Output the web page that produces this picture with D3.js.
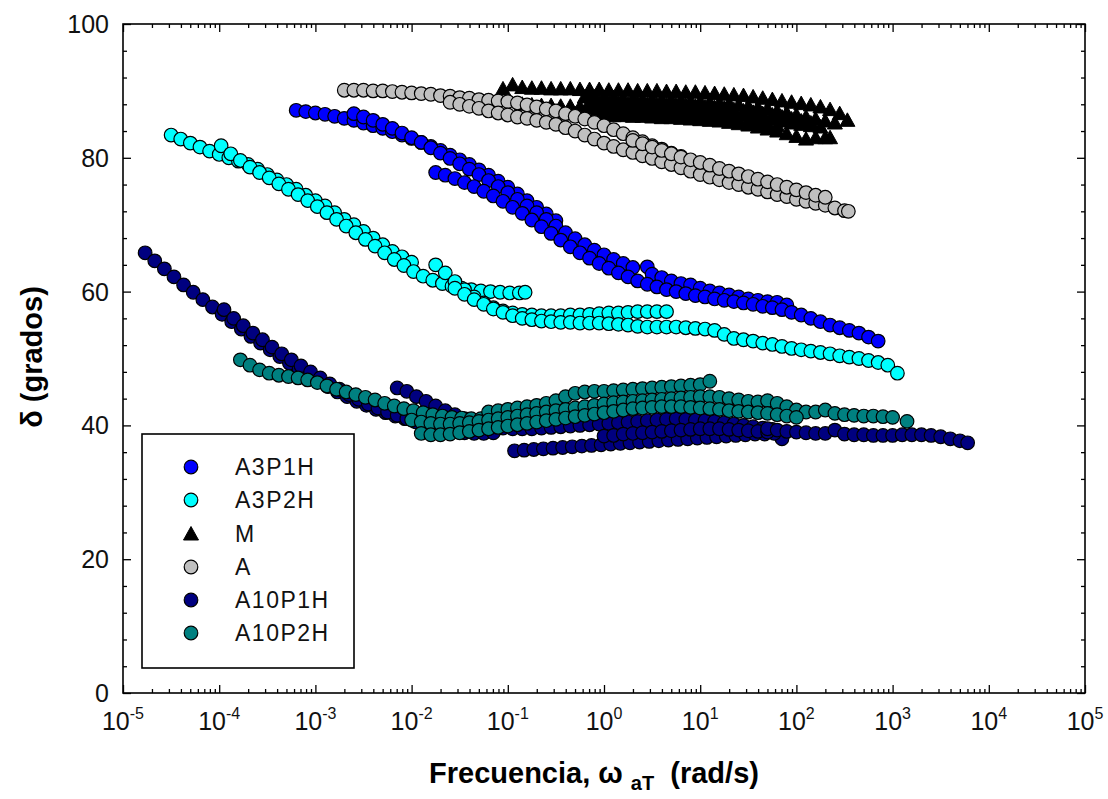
<!DOCTYPE html>
<html>
<head>
<meta charset="utf-8">
<script src="https://cdn.jsdelivr.net/npm/d3@7/dist/d3.min.js"></script>
<style>
html,body{margin:0;padding:0;background:#fff;}
svg{display:block;font-family:"Liberation Sans",Arial,sans-serif;}
</style>
</head>
<body>
<svg id="chart" width="1108" height="799"></svg>
<script>
// ---- DATA: each point is [log10(frequency rad/s), delta (degrees)] ----
const xDecades = [-5,-4,-3,-2,-1,0,1,2,3,4,5];
const yTicks = [0,20,40,60,80,100];
const seriesNames = ["A3P1H","A3P2H","M","A","A10P1H","A10P2H"];

const A3P1H_run1 = [[-3.2,87.1],[-3.1,86.9],[-3.0,86.7],[-2.9,86.5],[-2.8,86.2],[-2.7,85.9],[-2.6,85.6],[-2.5,85.2],[-2.4,84.8],[-2.3,84.4],[-2.2,83.9],[-2.1,83.4],[-2.0,82.9],[-1.9,82.3],[-1.8,81.7],[-1.7,81.1],[-1.6,80.4],[-1.5,79.7],[-1.4,79.0],[-1.3,78.2],[-1.2,77.4],[-1.1,76.5],[-1.0,75.6],[-0.9,74.6],[-0.8,73.6],[-0.7,72.6],[-0.6,71.6],[-0.5,70.6]];
const A3P1H_run2 = [[-2.6,86.6],[-2.5,86.1],[-2.4,85.6],[-2.3,85.0],[-2.2,84.4],[-2.1,83.7],[-2.0,83.0],[-1.9,82.3],[-1.8,81.5],[-1.7,80.7],[-1.6,79.9],[-1.5,79.1],[-1.4,78.3],[-1.3,77.5],[-1.2,76.6],[-1.1,75.7],[-1.0,74.8],[-0.9,73.8],[-0.8,72.8],[-0.7,71.8],[-0.6,70.8],[-0.5,69.8],[-0.4,68.8],[-0.3,67.9],[-0.2,67.0],[-0.1,66.2],[0.0,65.5],[0.1,64.8],[0.2,64.2],[0.3,63.6],[0.45,63.7],[0.5,62.6],[0.6,62.1],[0.7,61.6],[0.8,61.2],[0.9,61.0],[1.0,60.5],[1.1,60.1],[1.2,59.8],[1.3,59.5],[1.4,59.2],[1.5,58.9],[1.6,58.7],[1.7,58.5],[1.8,58.4],[1.9,58.0]];
const A3P1H_run3 = [[-1.75,77.8],[-1.65,77.4],[-1.55,76.9],[-1.45,76.3],[-1.35,75.7],[-1.25,75.0],[-1.15,74.3],[-1.05,73.5],[-0.95,72.6],[-0.85,71.7],[-0.75,70.7],[-0.65,69.7],[-0.55,68.7],[-0.45,67.7],[-0.35,66.7],[-0.25,65.8],[-0.15,65.0],[-0.05,64.2],[0.05,63.5],[0.15,62.8],[0.25,62.2],[0.35,61.6],[0.45,61.1],[0.55,60.7],[0.65,60.3],[0.75,60.0],[0.85,59.7],[0.95,59.4],[1.05,59.2],[1.15,58.9],[1.25,58.7],[1.35,58.5],[1.45,58.3],[1.55,58.1],[1.65,57.8],[1.75,57.6],[1.85,57.3],[1.95,56.9],[2.05,56.5],[2.15,56.0],[2.25,55.5],[2.35,55.0],[2.45,54.6],[2.55,54.2],[2.65,53.8],[2.75,53.2],[2.85,52.6]];

const A3P2H_run1 = [[-4.5,83.4],[-4.4,82.8],[-4.3,82.2],[-4.2,81.6],[-4.1,81.0],[-4.0,80.5],[-3.9,80.0],[-3.8,79.5],[-3.7,79.0],[-3.6,78.3],[-3.5,77.5],[-3.4,76.7],[-3.3,76.0],[-3.2,75.3],[-3.1,74.4],[-3.0,73.6],[-2.9,72.8],[-2.8,71.8],[-2.7,70.8],[-2.6,70.0],[-2.5,69.0],[-2.4,68.0],[-2.3,67.0],[-2.2,66.0],[-2.1,65.2],[-2.0,64.4]];
const A3P2H_run2 = [[-3.98,81.8],[-3.88,80.6],[-3.78,79.6],[-3.68,78.6],[-3.58,77.8],[-3.48,77.0],[-3.38,76.1],[-3.28,75.3],[-3.18,74.5],[-3.08,73.6],[-2.98,72.7],[-2.88,71.8],[-2.78,70.8],[-2.68,69.8],[-2.58,68.8],[-2.48,67.8],[-2.38,66.8],[-2.28,65.8],[-2.18,64.8],[-2.08,63.9],[-1.98,63.0],[-1.88,62.3],[-1.78,61.7],[-1.68,61.2],[-1.58,60.8],[-1.48,60.5],[-1.38,60.3],[-1.28,60.1],[-1.18,60.0],[-1.08,59.9],[-0.98,59.8],[-0.88,59.8],[-0.82,59.9]];
const A3P2H_run3 = [[-1.75,64.0],[-1.65,62.8],[-1.55,61.5],[-1.45,60.3],[-1.35,59.2],[-1.25,58.3],[-1.15,57.6],[-1.05,57.1],[-0.95,56.8],[-0.85,56.6],[-0.75,56.5],[-0.65,56.4],[-0.55,56.4],[-0.45,56.4],[-0.35,56.5],[-0.25,56.5],[-0.15,56.6],[-0.05,56.7],[0.05,56.8],[0.15,56.8],[0.25,56.9],[0.35,57.0],[0.45,57.0],[0.55,57.0],[0.65,57.0]];
const A3P2H_run4 = [[-1.55,60.5],[-1.45,59.6],[-1.35,58.8],[-1.25,58.1],[-1.15,57.4],[-1.05,56.9],[-0.95,56.4],[-0.85,56.0],[-0.75,55.8],[-0.65,55.6],[-0.55,55.5],[-0.45,55.4],[-0.35,55.4],[-0.25,55.3],[-0.15,55.3],[-0.05,55.3],[0.05,55.2],[0.15,55.1],[0.25,55.0],[0.35,54.8],[0.45,54.7],[0.55,54.7],[0.65,54.7],[0.75,54.7],[0.85,54.6],[0.95,54.5],[1.05,54.4],[1.15,54.2],[1.25,53.6],[1.35,53.0],[1.45,52.8],[1.55,52.6],[1.65,52.3],[1.75,52.1],[1.85,51.8],[1.95,51.5],[2.05,51.3],[2.15,51.1],[2.25,50.9],[2.35,50.7],[2.45,50.4],[2.55,50.2],[2.65,50.0],[2.75,49.7],[2.85,49.4],[2.95,49.0],[3.05,47.8]];

const M_run1 = [[-1.05,90.3],[-0.95,90.9],[-0.85,90.5],[-0.75,90.4],[-0.65,90.4],[-0.55,90.3],[-0.45,90.3],[-0.35,90.3],[-0.25,90.2],[-0.15,90.2],[-0.05,90.2],[0.05,90.1],[0.15,90.1],[0.25,90.1],[0.35,90.0],[0.45,90.0],[0.55,90.0],[0.65,89.9],[0.75,89.9],[0.85,89.8],[0.95,89.8],[1.05,89.7],[1.15,89.6],[1.25,89.5],[1.35,89.4],[1.45,89.3],[1.55,89.1],[1.65,88.9],[1.75,88.7],[1.85,88.5],[1.95,88.3],[2.05,88.1],[2.15,87.9],[2.25,87.6],[2.35,87.2],[2.45,86.6],[2.53,85.6]];
const M_run2 = [[-0.85,88.0],[-0.75,87.9],[-0.65,87.8],[-0.55,87.8],[-0.45,87.7],[-0.35,87.7],[-0.25,87.6],[-0.15,87.6],[-0.05,87.5],[0.05,87.5],[0.15,87.4],[0.25,87.4],[0.35,87.3],[0.45,87.3],[0.55,87.2],[0.65,87.2],[0.75,87.1],[0.85,87.0],[0.95,86.9],[1.05,86.8],[1.15,86.7],[1.25,86.6],[1.35,86.5],[1.45,86.4],[1.55,86.2],[1.65,86.0],[1.75,85.8],[1.85,85.5],[1.95,85.2],[2.05,85.0],[2.15,84.8],[2.25,84.6]];
const M_run3 = [[-0.3,86.6],[-0.2,86.5],[-0.1,86.5],[0.0,86.4],[0.1,86.3],[0.2,86.3],[0.3,86.2],[0.4,86.2],[0.5,86.1],[0.6,86.0],[0.7,86.0],[0.8,85.9],[0.9,85.8],[1.0,85.7],[1.1,85.6],[1.2,85.5],[1.3,85.3],[1.4,85.1],[1.5,84.9],[1.6,84.6],[1.7,84.3],[1.8,84.0],[1.9,83.6],[2.0,83.2],[2.1,82.8],[2.2,83.0],[2.3,83.0],[2.35,83.0]];
const M_run4 = [[-0.2,89.1],[-0.1,89.1],[0.0,89.0],[0.1,89.0],[0.2,88.9],[0.3,88.9],[0.4,88.8],[0.5,88.8],[0.6,88.7],[0.7,88.7],[0.8,88.6],[0.9,88.5],[1.0,88.4],[1.1,88.3],[1.2,88.2],[1.3,88.1],[1.4,87.9],[1.5,87.7],[1.6,87.5],[1.7,87.3],[1.8,87.0],[1.9,86.7],[2.0,86.4],[2.1,86.1],[2.2,85.8],[2.3,85.5],[2.4,85.2]];
const M_run5 = [[-0.15,88.3],[-0.05,88.3],[0.05,88.2],[0.15,88.2],[0.25,88.1],[0.35,88.1],[0.45,88.0],[0.55,88.0],[0.65,87.9],[0.75,87.9],[0.85,87.8],[0.95,87.7],[1.05,87.6],[1.15,87.5],[1.25,87.4],[1.35,87.2],[1.45,87.0],[1.55,86.8],[1.65,86.6],[1.75,86.4],[1.85,86.1],[1.95,85.8],[2.05,85.5],[2.15,85.2]];
const M_run6 = [[-0.1,87.0],[0.0,86.9],[0.1,86.9],[0.2,86.8],[0.3,86.8],[0.4,86.7],[0.5,86.7],[0.6,86.6],[0.7,86.5],[0.8,86.5],[0.9,86.4],[1.0,86.3],[1.1,86.2],[1.2,86.1],[1.3,85.9],[1.4,85.7],[1.5,85.5],[1.6,85.3],[1.7,85.1],[1.8,84.8]];

const A_run1 = [[-2.7,90.1],[-2.6,90.1],[-2.5,90.1],[-2.4,90.0],[-2.3,90.0],[-2.2,89.9],[-2.1,89.8],[-2.0,89.7],[-1.9,89.6],[-1.8,89.5],[-1.7,89.3],[-1.6,89.2],[-1.5,89.0],[-1.4,88.9],[-1.3,88.7],[-1.2,88.6],[-1.1,88.5],[-1.0,88.4],[-0.9,88.2],[-0.8,87.9],[-0.7,87.6],[-0.6,87.3],[-0.5,87.0],[-0.4,86.6],[-0.3,86.2],[-0.2,85.8],[-0.1,85.3],[0.0,84.8],[0.1,84.2],[0.2,83.6],[0.3,83.0],[0.4,82.4],[0.5,81.8],[0.6,81.3],[0.7,80.7],[0.8,80.2]];
const A_run2 = [[-1.6,88.3],[-1.5,88.0],[-1.4,87.7],[-1.3,87.4],[-1.2,87.0],[-1.1,86.7],[-1.0,86.4],[-0.9,86.1],[-0.8,85.9],[-0.7,85.6],[-0.6,85.3],[-0.5,85.0],[-0.4,84.5],[-0.3,84.0],[-0.2,83.4],[-0.1,82.8],[0.0,82.2],[0.1,81.7],[0.2,81.2],[0.3,80.8],[0.4,80.3],[0.5,79.9],[0.6,79.4],[0.7,79.0],[0.8,78.5],[0.9,78.0],[1.0,77.5],[1.1,77.1],[1.2,76.7],[1.3,76.3],[1.4,76.0],[1.5,75.6],[1.6,75.3],[1.7,74.9],[1.8,74.5],[1.9,74.2],[2.0,73.8],[2.1,73.5],[2.2,73.2],[2.3,72.9],[2.4,72.5],[2.5,72.1],[2.54,72.0]];
const A_run3 = [[0.3,82.6],[0.4,82.1],[0.5,81.6],[0.6,81.1],[0.7,80.6],[0.8,80.1],[0.9,79.7],[1.0,79.3],[1.1,78.9],[1.2,78.4],[1.3,78.0],[1.4,77.6],[1.5,77.2],[1.6,76.8],[1.7,76.4],[1.8,76.0],[1.9,75.6],[2.0,75.2],[2.1,74.8],[2.2,74.4],[2.3,74.1]];

const A10P1H_run1 = [[-4.77,65.8],[-4.67,64.6],[-4.57,63.4],[-4.47,62.2],[-4.37,61.0],[-4.27,59.9],[-4.17,58.8],[-4.07,57.7],[-3.97,56.6],[-3.87,55.5],[-3.77,54.4],[-3.67,53.3],[-3.57,52.3],[-3.47,51.3],[-3.37,50.3],[-3.27,49.3],[-3.17,48.4],[-3.07,47.5],[-2.97,46.6],[-2.87,45.8],[-2.77,45.0],[-2.67,44.3],[-2.57,43.6],[-2.47,43.0],[-2.37,42.4],[-2.27,41.9],[-2.17,41.4],[-2.07,41.0],[-1.97,40.6],[-1.87,40.2],[-1.77,39.9],[-1.67,39.6],[-1.57,39.4],[-1.47,39.2],[-1.37,39.1]];
const A10P1H_run2 = [[-3.95,57.3],[-3.85,56.0],[-3.75,54.9],[-3.65,53.8],[-3.55,52.8],[-3.45,51.7],[-3.35,50.7],[-3.25,49.8],[-3.15,48.9],[-3.05,48.0],[-2.95,47.1],[-2.85,46.2],[-2.75,45.4],[-2.65,44.6],[-2.55,43.9],[-2.45,43.2],[-2.35,42.6],[-2.25,42.0],[-2.15,41.5],[-2.05,41.0],[-1.95,40.5],[-1.85,40.1],[-1.75,39.7],[-1.65,39.4],[-1.55,39.1],[-1.45,38.9],[-1.35,38.8],[-1.25,38.8],[-1.15,38.9]];
const A10P1H_run3 = [[-2.15,45.6],[-2.05,45.1],[-1.95,44.3],[-1.85,43.6],[-1.75,42.9],[-1.65,42.2],[-1.55,41.6],[-1.45,41.0],[-1.35,40.5],[-1.25,40.1],[-1.15,39.8],[-1.05,39.6],[-0.95,39.5],[-0.85,39.5],[-0.75,39.5],[-0.65,39.6],[-0.55,39.7],[-0.45,39.8],[-0.35,39.9],[-0.25,40.0],[-0.15,40.1],[-0.05,40.2],[0.05,40.3],[0.15,40.4],[0.25,40.5],[0.35,40.6],[0.45,40.7],[0.55,40.8],[0.65,40.9],[0.75,41.0],[0.85,40.9],[0.95,40.8],[1.05,40.7],[1.15,40.6],[1.25,40.4],[1.35,40.2],[1.45,40.0],[1.55,39.8],[1.65,39.6],[1.75,39.4],[1.85,38.0]];
const A10P1H_run4 = [[-0.93,36.2],[-0.83,36.3],[-0.73,36.4],[-0.63,36.5],[-0.53,36.6],[-0.43,36.7],[-0.33,36.8],[-0.23,36.9],[-0.13,37.0],[-0.03,37.1],[0.07,37.2],[0.17,37.3],[0.27,37.4],[0.37,37.5],[0.47,37.6],[0.57,37.7],[0.67,37.8],[0.77,37.9],[0.87,38.0],[0.97,38.1],[1.07,38.2],[1.17,38.3],[1.27,38.4],[1.37,38.5],[1.47,38.6],[1.57,38.7],[1.67,38.7],[1.77,38.8]];
const A10P1H_run5 = [[0.0,38.4],[0.1,38.5],[0.2,38.7],[0.3,38.8],[0.4,38.9],[0.5,39.0],[0.6,39.1],[0.7,39.2],[0.8,39.3],[0.9,39.4],[1.0,39.5],[1.1,39.5],[1.2,39.5],[1.3,39.4],[1.4,39.3],[1.5,39.2],[1.6,39.1],[1.7,39.0]];
const A10P1H_run6 = [[1.7,39.5],[1.8,39.3],[1.9,39.1],[2.0,39.0],[2.1,38.9],[2.2,38.8],[2.3,38.8],[2.4,39.3],[2.5,38.7],[2.6,38.6],[2.7,38.6],[2.8,38.5],[2.9,38.5],[3.0,38.5],[3.1,38.6],[3.2,38.6],[3.3,38.6],[3.4,38.5],[3.5,38.3],[3.6,38.0],[3.7,37.7],[3.78,37.4]];

const A10P2H_run1 = [[-3.78,49.8],[-3.68,49.0],[-3.58,48.3],[-3.48,47.8],[-3.38,47.5],[-3.28,47.3],[-3.18,47.1],[-3.08,46.8],[-2.98,46.4],[-2.88,45.9],[-2.78,45.4],[-2.68,45.0],[-2.58,44.6],[-2.48,44.2],[-2.38,43.8],[-2.28,43.3],[-2.18,42.9],[-2.08,42.5],[-1.98,42.2],[-1.88,41.9],[-1.78,41.6],[-1.68,41.4],[-1.58,41.2],[-1.48,41.1],[-1.38,41.0],[-1.28,41.0],[-1.18,41.1],[-1.08,41.2],[-0.98,41.4],[-0.88,41.6]];
const A10P2H_run2 = [[-1.2,42.0],[-1.1,42.2],[-1.0,42.4],[-0.9,42.6],[-0.8,42.8],[-0.7,43.0],[-0.6,43.3],[-0.5,43.7],[-0.4,44.3],[-0.3,44.8],[-0.2,45.0],[-0.1,45.1],[0.0,45.1],[0.1,45.2],[0.2,45.3],[0.3,45.4],[0.4,45.5],[0.5,45.6],[0.6,45.7],[0.7,45.8],[0.8,45.9],[0.9,46.0],[1.0,46.1],[1.1,46.6]];
const A10P2H_run3 = [[-2.0,40.8],[-1.9,40.5],[-1.8,40.3],[-1.7,40.2],[-1.6,40.2],[-1.5,40.3],[-1.4,40.4],[-1.3,40.6],[-1.2,40.8],[-1.1,41.0],[-1.0,41.2],[-0.9,41.4],[-0.8,41.6],[-0.7,41.8],[-0.6,42.0],[-0.5,42.2],[-0.4,42.4],[-0.3,42.6],[-0.2,42.8],[-0.1,43.0],[0.0,43.2],[0.1,43.4],[0.2,43.5],[0.3,43.6],[0.4,43.7],[0.5,43.8],[0.6,43.9],[0.7,44.0],[0.8,44.1],[0.9,44.2],[1.0,44.3],[1.1,44.3],[1.2,44.2],[1.3,44.0],[1.4,43.8],[1.5,43.6],[1.6,43.5],[1.7,43.7],[1.8,43.3],[1.9,42.8],[2.0,42.3],[2.1,42.0],[2.2,42.0],[2.3,42.3],[2.4,41.8],[2.5,41.6],[2.6,41.5],[2.7,41.4],[2.8,41.4],[2.9,41.3],[3.0,41.2],[3.15,40.6]];
const A10P2H_run4 = [[-1.9,38.8],[-1.8,38.6],[-1.7,38.6],[-1.6,38.7],[-1.5,38.9],[-1.4,39.1],[-1.3,39.3],[-1.2,39.5],[-1.1,39.7],[-1.0,39.9],[-0.9,40.1],[-0.8,40.3],[-0.7,40.5],[-0.6,40.7],[-0.5,40.9],[-0.4,41.1],[-0.3,41.3],[-0.2,41.5],[-0.1,41.7],[0.0,41.9],[0.1,42.1],[0.2,42.3],[0.3,42.5],[0.4,42.6],[0.5,42.7],[0.6,42.8],[0.7,42.8],[0.8,42.8],[0.9,42.7],[1.0,42.6],[1.1,42.5],[1.2,42.4],[1.3,42.2],[1.4,42.1],[1.5,42.0],[1.6,41.9],[1.7,41.8],[1.8,41.6],[1.9,41.4],[2.0,41.2]];

const seriesColors = ["#0000FF","#00FFFF","#000000","#C0C0C0","#000080","#008080"];
const seriesShapes = ["circle","circle","triangle","circle","circle","circle"];
const seriesRuns = [
  [A3P1H_run1, A3P1H_run2, A3P1H_run3],
  [A3P2H_run1, A3P2H_run2, A3P2H_run3, A3P2H_run4],
  [M_run1, M_run4, M_run5, M_run2, M_run6, M_run3],
  [A_run1, A_run2, A_run3],
  [A10P1H_run1, A10P1H_run2, A10P1H_run3, A10P1H_run4, A10P1H_run5, A10P1H_run6],
  [A10P2H_run1, A10P2H_run2, A10P2H_run3, A10P2H_run4]
];

// ---- DRAWING ----
const svg = d3.select("#chart");
const L = 123, R = 1085, T = 24, B = 693;
const x = d3.scaleLog().domain([1e-5, 1e5]).range([L, R]);
const y = d3.scaleLinear().domain([0, 100]).range([B, T]);

const minorX = [];
xDecades.slice(0, -1).forEach(k => { for (let m = 2; m <= 9; m++) minorX.push(m * Math.pow(10, k)); });
const majorX = xDecades.map(k => Math.pow(10, k));
const minorY = d3.range(0, 101, 4).filter(v => v % 20 !== 0);

function styleAxis(g) {
  g.select(".domain").remove();
  g.selectAll(".tick line").attr("stroke", "#000").attr("stroke-width", 1.3);
  g.selectAll(".tick text").remove();
}
svg.append("g").attr("transform", `translate(0,${B})`).call(d3.axisBottom(x).tickValues(majorX).tickSize(-8)).call(styleAxis);
svg.append("g").attr("transform", `translate(0,${B})`).call(d3.axisBottom(x).tickValues(minorX).tickSize(-4)).call(styleAxis);
svg.append("g").attr("transform", `translate(0,${T})`).call(d3.axisTop(x).tickValues(majorX).tickSize(-8)).call(styleAxis);
svg.append("g").attr("transform", `translate(0,${T})`).call(d3.axisTop(x).tickValues(minorX).tickSize(-4)).call(styleAxis);
svg.append("g").attr("transform", `translate(${L},0)`).call(d3.axisLeft(y).tickValues(yTicks).tickSize(-8)).call(styleAxis);
svg.append("g").attr("transform", `translate(${L},0)`).call(d3.axisLeft(y).tickValues(minorY).tickSize(-4)).call(styleAxis);
svg.append("g").attr("transform", `translate(${R},0)`).call(d3.axisRight(y).tickValues(yTicks).tickSize(-8)).call(styleAxis);
svg.append("g").attr("transform", `translate(${R},0)`).call(d3.axisRight(y).tickValues(minorY).tickSize(-4)).call(styleAxis);

svg.append("rect").attr("x", L).attr("y", T).attr("width", R - L).attr("height", B - T)
  .attr("fill", "none").attr("stroke", "#000").attr("stroke-width", 1.6);

// y tick labels
svg.append("g").selectAll("text").data(yTicks).join("text")
  .attr("x", L - 14).attr("y", d => y(d)).attr("dy", "0.36em")
  .attr("text-anchor", "end").attr("font-size", 25).attr("fill", "#111")
  .text(d => d);

// x tick labels 10^k
const xl = svg.append("g").selectAll("text").data(xDecades).join("text")
  .attr("x", d => x(Math.pow(10, d))).attr("y", 730)
  .attr("text-anchor", "middle").attr("font-size", 25).attr("fill", "#111");
xl.append("tspan").text("10");
xl.append("tspan").attr("dy", -11).attr("font-size", 16).text(d => d);

// axis titles
const xt = svg.append("text").attr("x", 594).attr("y", 783).attr("text-anchor", "middle")
  .attr("font-size", 29).attr("font-weight", "bold").attr("fill", "#000");
xt.append("tspan").text("Frecuencia, ω\u00a0");
xt.append("tspan").attr("font-size", 20).attr("dy", 7).text("aT");
xt.append("tspan").attr("dy", -7).text("\u00a0\u00a0(rad/s)");

svg.append("text").attr("transform", "translate(42,357) rotate(-90)").attr("text-anchor", "middle")
  .attr("font-size", 29).attr("font-weight", "bold").attr("fill", "#000").text("δ (grados)");

// markers
const triPath = "M0,-7.5L7.5,6L-7.5,6Z";
function drawMarker(sel, shape, color) {
  if (shape === "triangle") {
    sel.append("path").attr("d", triPath).attr("fill", color).attr("stroke", "#000").attr("stroke-width", 1);
  } else {
    sel.append("circle").attr("r", 6.8).attr("fill", color).attr("stroke", "#000").attr("stroke-width", 1.2);
  }
}
const plot = svg.append("g");
seriesRuns.forEach((runs, si) => {
  const g = plot.append("g").attr("class", "series-" + seriesNames[si]);
  runs.forEach(run => {
    run.forEach(p => {
      const m = g.append("g").attr("transform", `translate(${x(Math.pow(10, p[0]))},${y(p[1])})`);
      drawMarker(m, seriesShapes[si], seriesColors[si]);
    });
  });
});

// legend
const lg = svg.append("g");
lg.append("rect").attr("x", 142).attr("y", 434).attr("width", 212).attr("height", 234)
  .attr("fill", "#fff").attr("stroke", "#000").attr("stroke-width", 1.6);
const rowsY = [467, 500, 534, 567, 600, 633];
seriesNames.forEach((n, i) => {
  const m = lg.append("g").attr("transform", `translate(191,${rowsY[i]})`);
  drawMarker(m, seriesShapes[i], seriesColors[i]);
  lg.append("text").attr("x", 235).attr("y", rowsY[i]).attr("dy", "0.36em")
    .attr("font-size", 23).attr("letter-spacing", 1.5).attr("fill", "#111").text(n);
});
</script>
</body>
</html>
